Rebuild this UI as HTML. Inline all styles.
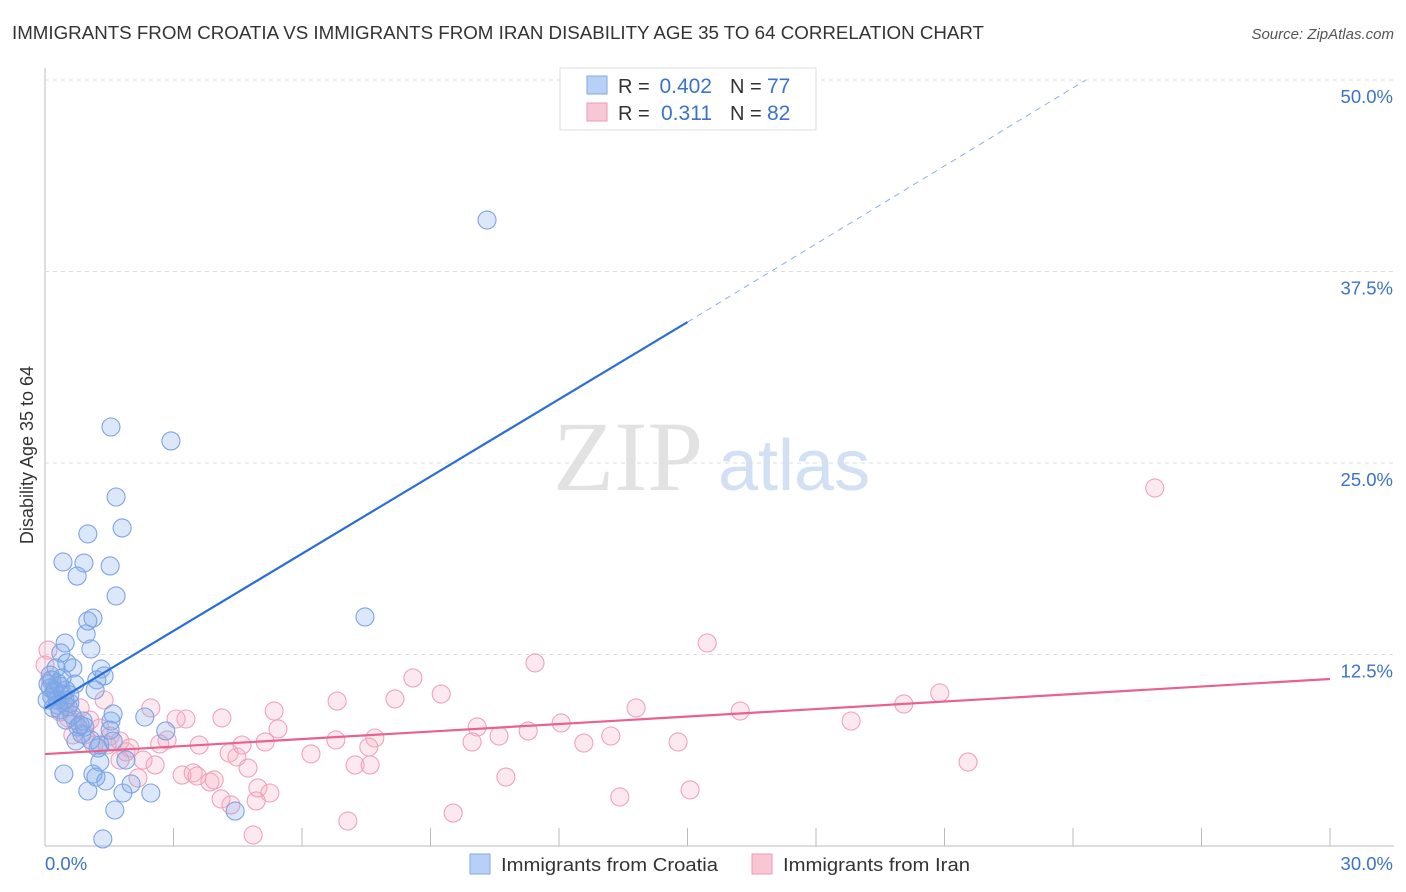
<!DOCTYPE html>
<html><head><meta charset="utf-8"><style>
body{margin:0;background:#fff;font-family:"Liberation Sans",sans-serif;}
svg{display:block}
</style></head><body>
<svg id="chart" width="1406" height="892">
<text x="12" y="39" font-size="18" fill="#333" textLength="972" lengthAdjust="spacingAndGlyphs">IMMIGRANTS FROM CROATIA VS IMMIGRANTS FROM IRAN DISABILITY AGE 35 TO 64 CORRELATION CHART</text>
<text x="1394" y="39" font-size="15" fill="#555" font-style="italic" text-anchor="end">Source: ZipAtlas.com</text>
<text x="33" y="455" font-size="18" fill="#333" text-anchor="middle" transform="rotate(-90 33 455)">Disability Age 35 to 64</text>
<text x="553" y="490" font-size="100" fill="#e2e2e2" font-family="Liberation Serif,serif">ZIP</text>
<text x="718" y="490" font-size="72" fill="#d2e0f4">atlas</text>
<g id="grid"></g><g id="pts"></g><g id="lines"></g>
<g>
<rect x="560" y="68" width="256" height="62" fill="#fff" stroke="#ddd"/>
<rect x="587" y="76" width="20" height="18" fill="#b8d0f5" stroke="#7fa8e8"/>
<rect x="587" y="103" width="20" height="18" fill="#f9c6d4" stroke="#ee9ab5"/>
<text x="618" y="93" font-size="20" fill="#333">R =</text>
<text x="712" y="93" font-size="21" fill="#3b73c9" text-anchor="end">0.402</text>
<text x="730" y="93" font-size="20" fill="#333">N =</text>
<text x="767" y="93" font-size="21" fill="#3b73c9">77</text>
<text x="618" y="120" font-size="20" fill="#333">R =</text>
<text x="712" y="120" font-size="21" fill="#3b73c9" text-anchor="end">0.311</text>
<text x="730" y="120" font-size="20" fill="#333">N =</text>
<text x="767" y="120" font-size="21" fill="#3b73c9">82</text>
</g>
<g>
<rect x="470" y="854" width="20" height="20" fill="#b8d0f5" stroke="#7fa8e8"/>
<text x="501" y="871" font-size="18" fill="#333" textLength="217" lengthAdjust="spacingAndGlyphs">Immigrants from Croatia</text>
<rect x="752" y="854" width="20" height="20" fill="#f9c6d4" stroke="#ee9ab5"/>
<text x="783" y="871" font-size="18" fill="#333" textLength="187" lengthAdjust="spacingAndGlyphs">Immigrants from Iran</text>
</g>
</svg>
<script>
const yTicks=[12.5,25,37.5,50];
const yTickLabels=["12.5%","25.0%","37.5%","50.0%"];
const xTickLabels=["0.0%","30.0%"];
const blueX=[];const blueY=[];const pinkX=[];const pinkY=[];
const bluePx=[[487,220],[111,427],[171,441],[116,497],[122,528],[88,534],[63,562],[84,563],[110,566],[77,576],[116,596],[93,618],[88,621],[86,634],[65,643],[91,649],[61,653],[67,663],[73,668],[101,669],[104,676],[97,680],[52,680],[58,683],[50,688],[55,692],[75,684],[63,694],[52,697],[70,703],[53,708],[65,700],[68,707],[60,710],[113,714],[145,717],[111,721],[83,721],[166,731],[78,727],[82,734],[76,741],[113,741],[98,748],[126,760],[100,762],[64,774],[93,774],[96,777],[106,781],[131,784],[88,791],[123,793],[151,793],[235,811],[115,810],[103,839],[365,617],[54,690],[60,686],[48,684],[57,700],[66,690],[72,715],[85,727],[91,740],[50,675],[56,668],[62,678],[70,695],[80,725],[95,690],[47,700],[58,705],[66,720],[100,745],[110,730]];
const pinkPx=[[1155,488],[707,643],[535,663],[940,693],[413,678],[904,704],[441,694],[337,701],[395,699],[851,721],[740,711],[636,708],[528,731],[561,723],[477,727],[611,736],[584,743],[499,736],[472,742],[678,742],[375,738],[336,740],[369,747],[355,765],[370,765],[311,754],[274,711],[278,729],[242,745],[265,742],[229,753],[237,757],[248,768],[222,718],[199,745],[186,719],[176,719],[151,708],[167,740],[160,744],[104,700],[48,650],[45,665],[68,718],[73,735],[94,745],[120,741],[126,752],[130,748],[143,760],[155,765],[138,778],[182,775],[193,773],[197,776],[210,782],[214,780],[221,799],[231,805],[256,801],[258,788],[270,793],[506,777],[968,762],[690,790],[620,797],[453,813],[348,821],[253,835],[63,700],[80,708],[90,720],[100,728],[110,736],[55,690],[75,720],[85,735],[60,712],[120,760],[107,745],[50,680],[65,705]];
bluePx.forEach(p=>{blueX.push(+((p[0]-45)/1285*30).toFixed(2));blueY.push(+((846-p[1])/766*50).toFixed(2));});
pinkPx.forEach(p=>{pinkX.push(+((p[0]-45)/1285*30).toFixed(2));pinkY.push(+((846-p[1])/766*50).toFixed(2));});
const blueLine=[[0,9.0],[15,34.2],[24.3,50]];
const pinkLine=[[0,6.0],[30,10.9]];
const X=v=>45+v/30*1285, Y=v=>846-v/50*766;
const NS="http://www.w3.org/2000/svg";
function mk(t,a,parent){const e=document.createElementNS(NS,t);for(const k in a)e.setAttribute(k,a[k]);document.getElementById(parent).appendChild(e);return e;}
let e=mk("line",{x1:45,y1:68,x2:45,y2:846,stroke:"#bbb"},"grid");

e=mk("line",{x1:45,y1:846,x2:1394,y2:846,stroke:"#bbb"},"grid");

for(let i=1;i<=10;i++){e=mk("line",{x1:X(i*3),y1:828,x2:X(i*3),y2:846,stroke:"#bbb"},"grid");
}
yTicks.forEach((v,i)=>{e=mk("line",{x1:45,y1:Y(v),x2:1394,y2:Y(v),stroke:"#ddd","stroke-dasharray":"4 4"},"grid");

e=mk("text",{x:1393,y:Y(v)+23,"font-size":18.5,fill:"#3b73c9","text-anchor":"end"},"grid");e.textContent=yTickLabels[i];
});
e=mk("text",{x:45,y:870,"font-size":18.5,fill:"#3b73c9"},"grid");e.textContent=xTickLabels[0];

e=mk("text",{x:1393,y:870,"font-size":18.5,fill:"#3b73c9","text-anchor":"end"},"grid");e.textContent=xTickLabels[1];

pinkX.forEach((v,i)=>{e=mk("circle",{cx:X(v),cy:Y(pinkY[i]),r:9,fill:"rgba(246,176,198,0.28)",stroke:"#f0a2ba","stroke-width":1.1},"pts");
});
blueX.forEach((v,i)=>{e=mk("circle",{cx:X(v),cy:Y(blueY[i]),r:9,fill:"rgba(130,172,235,0.28)",stroke:"#7ca4e6","stroke-width":1.1},"pts");
});
e=mk("line",{x1:X(blueLine[0][0]),y1:Y(blueLine[0][1]),x2:X(blueLine[1][0]),y2:Y(blueLine[1][1]),stroke:"#2a6fd6","stroke-width":2.2},"lines");

e=mk("line",{x1:X(blueLine[1][0]),y1:Y(blueLine[1][1]),x2:X(blueLine[2][0]),y2:Y(blueLine[2][1]),stroke:"#8ab0e8","stroke-width":1,"stroke-dasharray":"6 5"},"lines");

e=mk("line",{x1:X(pinkLine[0][0]),y1:Y(pinkLine[0][1]),x2:X(pinkLine[1][0]),y2:Y(pinkLine[1][1]),stroke:"#e8628f","stroke-width":2.2},"lines");

</script>
</body></html>
